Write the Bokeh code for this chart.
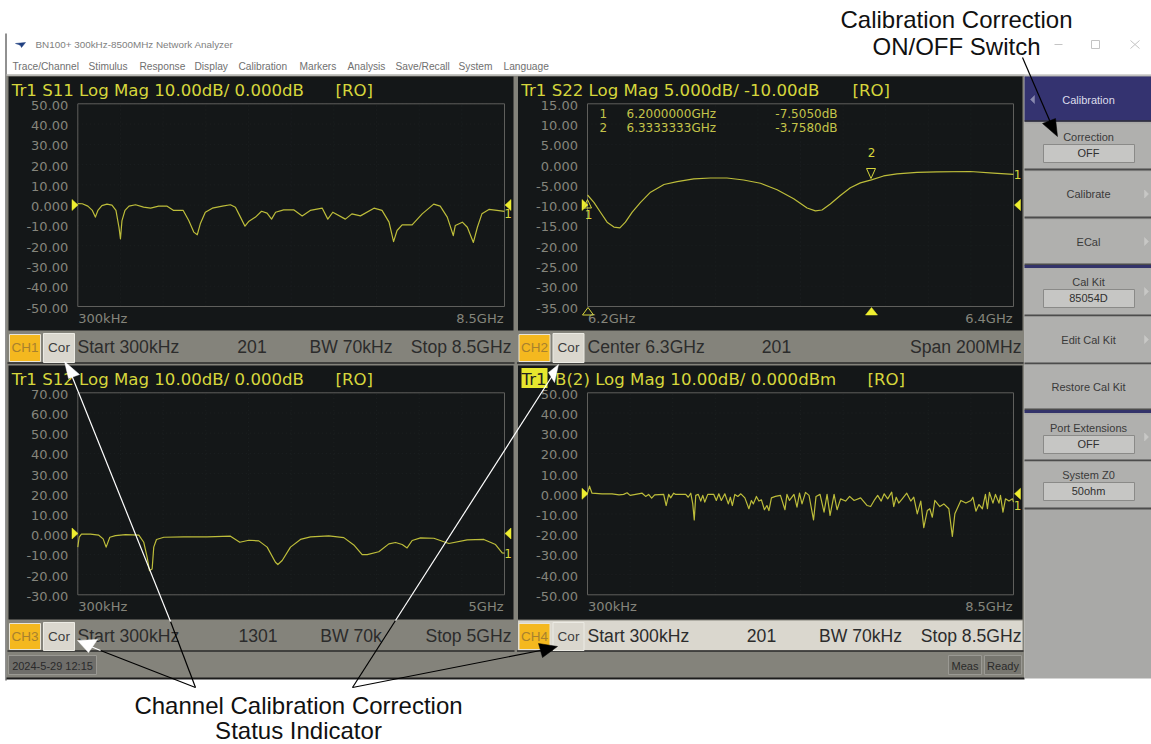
from bokeh.plotting import figure
from bokeh.models import Range1d
from bokeh.core.properties import value
from bokeh.embed import file_html
from bokeh.resources import INLINE

# ---------- data ----------
ch1_ghz = [0,.09,.2,.29,.35,.4,.48,.58,.68,.76,.82,.85,.88,.94,1.02,1.15,1.31,1.45,1.61,1.78,1.91,2.1,2.21,2.31,2.38,2.44,2.54,2.68,2.88,3.04,3.14,3.24,3.33,3.41,3.54,3.66,3.77,3.86,3.94,4.1,4.3,4.47,4.63,4.87,4.98,5.08,5.33,5.46,5.63,5.9,6.06,6.2,6.29,6.36,6.46,6.66,6.86,7.09,7.22,7.36,7.48,7.52,7.66,7.76,7.88,7.96,8.05,8.19,8.35,8.5]
ch1_db = [.8,.7,-.5,-2.6,-5.9,-2.6,-.2,.5,0,-2.6,-10.9,-16.6,-7.6,-2.6,-.5,.2,-1,-1.5,-.5,-.5,-2.6,-2.6,-7.6,-13.3,-14.6,-9.2,-3.5,-1.5,-.5,.2,-1,-5.9,-10.4,-7.9,-5.9,-3,-3.9,-6.9,-3.5,-2.3,-2.3,-5.3,-2.6,-1.5,-6.9,-3.5,-6.9,-4.3,-5.3,-1.5,-2.6,-8.4,-18,-12.5,-9.7,-9.7,-4.3,.5,-.5,-5.9,-15,-10,-8.4,-10.9,-18.4,-10.9,-4.3,-2.1,-2.6,-3.1]

ch2_ghz = [6.2,6.203,6.206,6.2092,6.2124,6.2152,6.2178,6.221,6.2249,6.2296,6.2359,6.2421,6.2499,6.2577,6.2655,6.2733,6.2812,6.289,6.2968,6.3031,6.307,6.3101,6.314,6.3187,6.3234,6.3281,6.3333,6.339,6.3453,6.3547,6.364,6.3797,6.3906,6.4]
ch2_db = [-7.5,-9.3,-11.7,-14.2,-15.4,-15.6,-14.2,-11.7,-9.3,-6.8,-4.9,-4.2,-3.5,-3.3,-3.3,-3.8,-4.6,-6.2,-8.4,-10.7,-11.4,-11.2,-9.7,-7.6,-5.7,-4.5,-3.76,-2.8,-2.3,-1.9,-1.8,-1.7,-2.1,-2.4]

ch3_ghz = [0,.016,.043,.148,.246,.297,.332,.375,.441,.559,.715,.773,.8125,.84,.871,.89,.922,1.008,1.242,1.516,1.789,1.898,2.004,2.121,2.219,2.316,2.344,2.395,2.492,2.609,2.727,2.941,3.117,3.234,3.332,3.391,3.527,3.645,3.723,3.801,3.859,3.918,4.016,4.172,4.348,4.563,4.758,4.895,4.973,5]
ch3_db = [-6.4,-1.5,0,0,-.5,-2.3,-6.4,-1.5,-.7,-.2,-.5,-4,-11.4,-18,-17.2,-6.4,-2.6,-1.5,-1.3,-1.3,-1,-4,-3,-3.3,-6.4,-13.9,-15,-13,-6.4,-2.6,-1.3,-.8,-1.7,-5.3,-10.1,-10.1,-8.7,-4.8,-4.1,-5.1,-6.8,-3.1,-1.8,-2,-4.6,-2.8,-2.6,-5.1,-9.2,-9.4]

ch4_ghz = [0,.04,.09,.29,.49,.63,.72,.79,.85,.96,1.09,1.16,1.22,1.28,1.34,1.52,1.57,1.62,1.66,1.72,1.76,1.96,2.01,2.06,2.1,2.13,2.16,2.21,2.26,2.3,2.34,2.4,2.52,2.57,2.62,2.67,2.74,2.81,2.85,2.89,2.94,3,3.06,3.14,3.22,3.27,3.31,3.37,3.42,3.47,3.53,3.58,3.62,3.67,3.75,3.85,3.94,3.98,4.03,4.12,4.18,4.23,4.28,4.35,4.42,4.51,4.56,4.64,4.72,4.78,4.84,4.92,4.98,5.05,5.15,5.23,5.32,5.45,5.58,5.65,5.72,5.79,5.86,5.92,5.99,6.07,6.11,6.16,6.21,6.28,6.37,6.45,6.51,6.58,6.65,6.71,6.78,6.83,6.88,6.93,7.03,7.11,7.21,7.28,7.33,7.45,7.55,7.65,7.69,7.75,7.81,7.88,7.94,7.98,8.02,8.09,8.14,8.21,8.24,8.29,8.34,8.41,8.48,8.5]
ch4_db = [.3,3.8,.3,0,0,-.5,-.3,.5,-.8,-.3,.3,-1.3,-.3,-2.1,-.5,-.3,-5.8,-.3,-2,.3,-.3,-.3,-1.7,.3,-5,-12.9,-.8,-.3,-3.6,-.8,-4.1,-.3,-.3,-3.3,0,-3.3,0,-5,-1.7,-5.8,-.3,-1.3,0,-2,-7.4,-3.3,-5,-1.3,-3.6,-3,-7.9,-5.8,-8.3,-2,-1.3,-.8,-7.9,-.3,-3.3,-.3,-6.6,.3,-5,.7,-.8,-12.9,-1.3,-.3,-9.1,-.3,-10.7,-.3,-7.9,-2.5,-3.6,-1.3,-3.3,-2,-5.8,-6.3,-3.3,-.8,-3.6,0,-2.5,.8,-6.3,-1.7,-4.6,-2.5,.3,-3.6,-1.7,-9.9,-3.6,-16.8,-8.3,-7.4,-11.6,-3.3,-6.3,-5,-7.4,-21.1,-9.9,-3.3,-4.6,-3.3,-1.7,-8.6,-5.3,-7.4,-.3,-7.4,.7,-4.6,-.3,-4.6,-.8,-9.1,-2.5,-3.6,-2.5,-4.1]

ch1_ticks = ["50.00","40.00","30.00","20.00","10.00","0.000","-10.00","-20.00","-30.00","-40.00","-50.00"]
ch2_ticks = ["15.00","10.00","5.000","0.000","-5.000","-10.00","-15.00","-20.00","-25.00","-30.00","-35.00"]
ch3_ticks = ["70.00","60.00","50.00","40.00","30.00","20.00","10.00","0.000","-10.00","-20.00","-30.00"]
ch4_ticks = list(ch1_ticks)

# ---------- page ----------
W, H = 1151, 744
p = figure(width=W, height=H, output_backend="svg", toolbar_location=None,
           x_range=Range1d(0, W), y_range=Range1d(H, 0), min_border=0,
           x_axis_type=None, y_axis_type=None, outline_line_color=None,
           background_fill_color="white", border_fill_color="white",
           styles={"position": "absolute", "left": "0px", "top": "0px"})
p.xgrid.visible = False
p.ygrid.visible = False

SANS = "Liberation Sans"
DJ = "DejaVu Sans"
YEL = "#d6d63c"
TRACE = "#bdbd3a"
GRAY = "#84837b"
LIGHT = "#dad7ce"
DARK = "#141718"
TICK = "#85857c"
PANEL = "#a9a9a7"
TITLE_PX = 16.6
NOTE_PX = 24

def rect(x0, y0, x1, y1, fill, line=None, lw=1):
    p.quad(left=[x0], right=[x1], top=[y0], bottom=[y1], fill_color=fill,
           line_color=line, line_width=lw)

def line(xs, ys, color, lw=1.0):
    p.line(xs, ys, line_color=color, line_width=lw)

def poly(xs, ys, fill):
    p.patch(xs, ys, fill_color=fill, line_color=fill, line_width=0.5)

def txt(x, y, s, size, color, font=SANS, align="left", **kw):
    p.text([x], [y], text=[s], text_font=value(font), text_font_size=f"{size}px",
           text_color=color, text_align=align, text_baseline="middle", **kw)

# window chrome
line([5.5, 5.5], [33, 680], "#222222", 1)
poly([15, 25, 21, 20, 18], [43, 42, 47, 45, 44], "#1f3f80")
txt(35, 44, "BN100+ 300kHz-8500MHz Network Analyzer", 9.9, "#808080")
menus = ["Trace/Channel", "Stimulus", "Response", "Display", "Calibration", "Markers",
         "Analysis", "Save/Recall", "System", "Language"]
menu_x = [12, 88, 139, 194, 238, 299, 347, 395, 458, 503]
for mx, m in zip(menu_x, menus):
    txt(mx, 66, m, 10.2, "#707070")
line([1054, 1062], [44, 44], "#c4c4c4", 1)
rect(1091, 40, 1099, 48, None, "#c4c4c4")
line([1130, 1139], [40, 48], "#c4c4c4", 1)
line([1130, 1139], [48, 40], "#c4c4c4", 1)

rect(6, 74, 1024, 678, GRAY)
line([6, 1151], [74.5, 74.5], "#c8c8c6", 1.5)
line([6, 1024], [678, 678], "#1c1c1c", 2)

panels = [
    dict(name="ch1", box=(8, 76, 513, 330), grid=(77.3, 103.3, 504, 306), status=(8, 331, 513, 362),
         xr=(0, 8.5), yr=(-50, 50), ticks=ch1_ticks, xs=ch1_ghz, ys=ch1_db, tag="CH1",
         title="Tr1 S11 Log Mag 10.00dB/ 0.000dB", ro=335, x_lab=("300kHz", "8.5GHz"),
         bar=[(77, "Start 300kHz", "left"), (251.5, "201", "center"), (350.5, "BW 70kHz", "center"), (511, "Stop 8.5GHz", "right")]),
    dict(name="ch2", box=(517.5, 76, 1022, 330), grid=(587, 103.3, 1013, 306), status=(517.5, 331, 1022, 362),
         xr=(6.2, 6.4), yr=(-35, 15), ticks=ch2_ticks, xs=ch2_ghz, ys=ch2_db, tag="CH2",
         title="Tr1 S22 Log Mag 5.000dB/ -10.00dB", ro=852, x_lab=("6.2GHz", "6.4GHz"),
         bar=[(587, "Center 6.3GHz", "left"), (776, "201", "center"), (1021, "Span 200MHz", "right")]),
    dict(name="ch3", box=(8, 365, 513, 619), grid=(77.3, 392.3, 504, 594.3), status=(8, 620, 513, 650),
         xr=(0, 5), yr=(-30, 70), ticks=ch3_ticks, xs=ch3_ghz, ys=ch3_db, tag="CH3",
         title="Tr1 S12 Log Mag 10.00dB/ 0.000dB", ro=335, x_lab=("300kHz", "5GHz"),
         bar=[(77, "Start 300kHz", "left"), (257.5, "1301", "center"), (350.5, "BW 70k", "center"), (511, "Stop 5GHz", "right")]),
    dict(name="ch4", box=(517.5, 365, 1022, 619), grid=(587, 392.3, 1013, 594.3), status=(517.5, 620, 1022, 650),
         xr=(0, 8.5), yr=(-50, 50), ticks=ch4_ticks, xs=ch4_ghz, ys=ch4_db, tag="CH4",
         title=None, ro=867, x_lab=("300kHz", "8.5GHz"),
         bar=[(587, "Start 300kHz", "left"), (761, "201", "center"), (860, "BW 70kHz", "center"), (1021, "Stop 8.5GHz", "right")]),
]

for i, P in enumerate(panels):
    x0, y0, x1, y1 = P["box"]
    gx0, gy0, gx1, gy1 = P["grid"]
    xa, xb = P["xr"]
    ya, yb = P["yr"]
    sx = (xb - xa) / (gx1 - gx0)
    sy = (yb - ya) / (gy1 - gy0)
    xn, yn = P["name"] + "x", P["name"] + "y"
    p.extra_x_ranges[xn] = Range1d(xa - gx0 * sx, xa + (W - gx0) * sx)
    p.extra_y_ranges[yn] = Range1d(ya - (H - gy1) * sy, yb + gy0 * sy)

    rect(x0, y0, x1, y1, DARK)
    sb = P["status"]
    rect(sb[0], sb[1], sb[2], sb[3], LIGHT if i == 3 else GRAY)
    line([sb[0] - 1, sb[2] + 1], [sb[3] + .5, sb[3] + .5], "#2a2a2a", 1.5)

    # channel chips
    cx = sb[0] + 1
    rect(cx, sb[1] + 3, cx + 31, sb[3] - 1, "#f4b81f", "#e8e4d8")
    rect(cx + 34, sb[1] + 2, cx + 65, sb[3], LIGHT, "#ecebe4")
    txt(cx + 15.5, sb[1] + 16, P["tag"], 13.5, "#a8812e", align="center")
    txt(cx + 49.5, sb[1] + 16, "Cor", 13.5, "#3c3c3c", align="center")
    for bx, s, al in P["bar"]:
        txt(bx, sb[1] + 15, s, 17.6, "#2c2c2c", align=al)

    # faint divisions
    ticks = P["ticks"]
    n = len(ticks)
    yv = [yb - (yb - ya) * k / (n - 1) for k in range(n)]
    xv = [xa + (xb - xa) * k / 10 for k in range(11)]
    p.segment(x0=xv, x1=xv, y0=[ya] * 11, y1=[yb] * 11, line_color="#1d2122", line_width=1,
              line_dash="1 3", x_range_name=xn, y_range_name=yn)
    p.segment(x0=[xa] * n, x1=[xb] * n, y0=yv, y1=yv, line_color="#1d2122", line_width=1,
              line_dash="1 3", x_range_name=xn, y_range_name=yn)
    # graticule box
    p.line([xa, xb, xb, xa, xa], [ya, ya, yb, yb, ya], line_color="#5f5f5c", line_width=1,
           x_range_name=xn, y_range_name=yn)
    # tick labels
    p.text(x=[gx0 - 9.5] * n, y=yv, text=ticks, text_font=value(DJ), text_font_size="13px",
           text_color=TICK, text_align="right", text_baseline="middle", y_offset=1.5,
           y_range_name=yn)
    txt(gx0 + .5, gy1 + 11.5, P["x_lab"][0], 13, TICK, DJ)
    txt(gx1 - 1, gy1 + 11.5, P["x_lab"][1], 13, TICK, DJ, align="right")
    # trace
    p.line(P["xs"], P["ys"], line_color=TRACE, line_width=1.2, line_join="round",
           x_range_name=xn, y_range_name=yn)
    # title
    ty = y0 + 14
    if P["title"]:
        txt(x0 + 3.3, ty, P["title"], TITLE_PX, YEL, DJ)
    txt(P["ro"], ty, "[RO]", TITLE_PX, YEL, DJ)

# panel 4 title with highlighted trace tag
rect(521, 367.5, 547, 387.5, "#e6e62e")
txt(521, 379, "Tr1", TITLE_PX, "#222222", DJ)
txt(554.5, 379, "B(2) Log Mag 10.00dB/ 0.000dBm", TITLE_PX, YEL, DJ)

# reference-level triangles and end tags
for lx, rx, ry, ny, tag_y in [(74, 507.5, 204.5, "ch1y", 213), (584, 1017, 204.5, "ch2y", None),
                              (74, 507.5, 533, "ch3y", 553), (584, 1017, 493.3, "ch4y", 505)]:
    poly([lx - 2.5, lx - 2.5, lx + 3.5], [ry - 5.5, ry + 5.5, ry], "#eeee30")
    poly([rx + 3, rx + 3, rx - 3], [ry - 5.5, ry + 5.5, ry], "#eeee30")
    if tag_y:
        txt(rx, tag_y, "1", 12, YEL, DJ, align="center")

# markers on S22
txt(1017, 174, "1", 12, YEL, DJ, align="center")
txt(588, 214, "1", 12, YEL, DJ, align="center")
txt(871, 151.5, "2", 12, YEL, DJ, align="center")
p.line([583, 587, 591, 583], [207.5, 199, 207.5, 207.5], line_color=YEL, line_width=1)
p.line([866, 875, 870.5, 866], [168, 168, 178, 168], line_color=YEL, line_width=1)
p.line([582, 593, 587.5, 582], [314.5, 314.5, 307, 314.5], line_color=YEL, line_width=1)
poly([865, 877, 871, 865], [314.5, 314.5, 307, 314.5], "#f0f030")

# marker readout
for row, (num, f, v) in zip([113, 127], [("1", "6.2000000GHz", "-7.5050dB"), ("2", "6.3333333GHz", "-3.7580dB")]):
    txt(599, row, num, 12, "#c4c44a", DJ)
    txt(626, row, f, 12, "#c4c44a", DJ)
    txt(837, row, v, 12, "#c4c44a", DJ, align="right")

# bottom status bar
rect(8, 655, 96, 674, "#6f6e6a", "#9a9993")
txt(52, 665, "2024-5-29 12:15", 11, "#2a2a2a", align="center")
rect(948, 655, 981, 674, "#77766f", "#9a9993")
txt(964.5, 665, "Meas", 11, "#2a2a2a", align="center")
rect(984, 655, 1021, 674, "#77766f", "#9a9993")
txt(1002.5, 665, "Ready", 11, "#2a2a2a", align="center")

# softkey panel
rect(1024, 75, W, 678, PANEL)
rect(1024, 76, W, 120, "#343370")
line([1024, W], [120.5, 120.5], "#1c1c30", 1.5)
poly([1034, 1034, 1030], [95, 103, 99], "#8a8ab0")
txt(1088, 99, "Calibration", 11, "#dcdcec", align="center")
keys = [(123, 168, "Correction", "OFF", False), (171, 216, "Calibrate", None, True), (219, 263, "ECal", None, True),
        (268, 314, "Cal Kit", "85054D", True), (316, 362, "Edit Cal Kit", None, True), (364, 408, "Restore Cal Kit", None, False),
        (414, 459, "Port Extensions", "OFF", True), (461, 507, "System Z0", "50ohm", False)]
for k0, k1, label, val, arrow in keys:
    rect(1024, k0, W, k1, "#b0b0ae")
    line([1024, W], [k1 + 1, k1 + 1], "#4c4c4c", 2)
    if val:
        txt(1088, k0 + 13, label, 11, "#3a3a3a", align="center")
        rect(1043, k0 + 21, 1134, k0 + 39, "#c6c6c4", "#8a8a88")
        txt(1088, k0 + 29.5, val, 11, "#303030", align="center")
    else:
        txt(1088, (k0 + k1) / 2, label, 11, "#3a3a3a", align="center")
    if arrow:
        poly([1144, 1144, 1148], [(k0 + k1) / 2 - 4, (k0 + k1) / 2 + 4, (k0 + k1) / 2], "#c8c8c6")
rect(1024, 264.5, W, 267.5, "#33336a")
rect(1024, 409.5, W, 412.5, "#33336a")

# callouts
BK, WH = "#000000", "#ffffff"
line([195, 170], [687, 621], BK, 1.2)
line([170, 70], [621, 372], WH, 1.2)
poly([64, 68, 79], [361, 378, 374], WH)
line([195, 100], [687, 650], BK, 1.2)
line([100, 88], [650, 645], WH, 1.2)
poly([77, 97, 88], [640, 639, 652], WH)
line([352, 395], [687, 620], BK, 1.2)
line([395, 552], [620, 375], WH, 1.2)
poly([558, 548, 554], [364, 372, 382], WH)
line([352, 540], [687, 650], BK, 1.2)
poly([557, 538, 542], [646, 643, 657], BK)
line([1022, 1050], [57, 122], BK, 1.2)
poly([1057, 1042, 1055], [136, 123, 118], BK)

txt(956, 18.5, "Calibration Correction", NOTE_PX, "#111111", align="center")
txt(956, 45.5, "ON/OFF Switch", NOTE_PX, "#111111", align="center")
txt(298, 705, "Channel Calibration Correction", NOTE_PX, "#111111", align="center")
txt(298, 730, "Status Indicator", NOTE_PX, "#111111", align="center")

open("out.html", "w").write(file_html(p, INLINE))
